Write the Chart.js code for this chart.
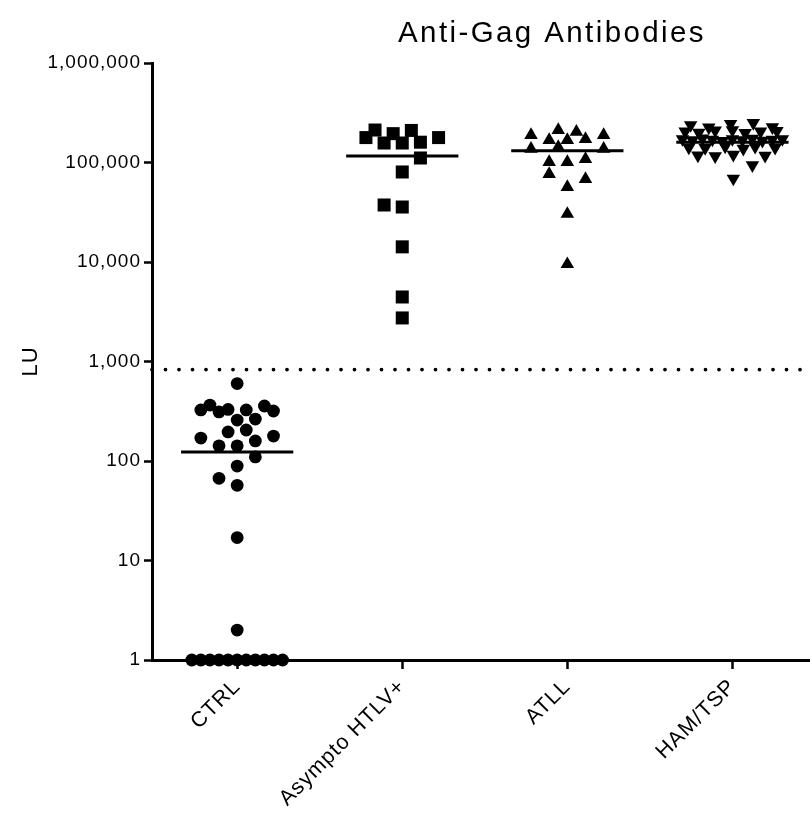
<!DOCTYPE html>
<html>
<head>
<meta charset="utf-8">
<script src="https://cdn.jsdelivr.net/npm/chart.js@4.4.1/dist/chart.umd.min.js"></script>
<style>
  html, body { margin: 0; padding: 0; background: #fff; }
  canvas { display: block; }
</style>
</head>
<body>
<canvas id="c" width="810" height="816"></canvas>
<script>
// ---------- data ----------
const titleText = 'Anti-Gag Antibodies';
const yAxisTitle = 'LU';
const categories = ['CTRL', 'Asympto HTLV+', 'ATLL', 'HAM/TSP'];
const yTicks = [1, 10, 100, 1000, 10000, 100000, 1000000];

const ctrlValues = [600, 326, 365, 311, 330, 258, 326, 264, 357, 318,
                    170, 196, 205, 159, 178, 142, 142, 110, 89, 67, 57, 17, 2,
                    1, 1, 1, 1, 1, 1, 1, 1, 1, 1, 1];
const ctrlSlots  = [0, -4, -3, -2, -1, 0, 1, 2, 3, 4,
                    -4, -1, 1, 2, 4, -2, 0, 2, 0, -2, 0, 0, 0,
                    -5, -4, -3, -2, -1, 0, 1, 2, 3, 4, 5];

const asymValues = [178000, 212000, 157000, 195000, 157000, 210000, 160000, 178000,
                    111000, 80300, 37400, 35700, 14200, 4450, 2740];
const asymSlots  = [-4, -3, -2, -1, 0, 1, 2, 4, 2, 0, -2, 0, 0, 0, 0];

const atllValues = [189000, 168000, 212000, 168000, 203000, 172000, 189000,
                    137000, 143000, 137000, 101000, 101000, 108000,
                    76600, 68200, 56700, 30400, 9500];
const atllSlots  = [-4, -2, -1, 0, 1, 2, 4, -4, -1, 4, -2, 0, 2, -2, 2, 0, 0, 0];

const hamValues = [238000, 225000, 245000, 250000, 226000,
                   205000, 200000, 210000, 212000, 198000, 205000, 208000,
                   172000, 168000, 175000, 170000, 165000, 172000, 168000, 174000, 166000, 170000, 172000,
                   142000, 140000, 145000, 138000, 144000, 141000,
                   118000, 116000, 120000, 117000,
                   94000, 69000];
const hamSlots  = [-4.6, -2.6, -0.2, 2.3, 4.4,
                   -5.2, -3.7, -1.9, 0, 1.4, 3.1, 4.9,
                   -5.5, -4.4, -3.3, -2.2, -1.1, 0, 1.1, 2.2, 3.3, 4.4, 5.5,
                   -4.8, -3, -0.8, 1.2, 2.5, 4.7,
                   -3.8, -1.9, 0.1, 3.6,
                   2.2, 0.1];

const medians = [123, 116000, 131000, 160000];
const cutoff = 830;

// ---------- layout constants ----------
const SLOT = 0.055;
const HALF_MEDIAN = 0.34;
const X_MIN = -0.516, X_MAX = 3.47;

function pts(catIdx, values, slots) {
  return values.map((v, i) => ({ x: catIdx + slots[i] * SLOT, y: v }));
}

Chart.defaults.font.family = "'Liberation Sans', Arial, Helvetica, sans-serif";
Chart.defaults.color = '#000';

const scatterBase = {
  type: 'scatter',
  backgroundColor: '#000',
  borderColor: '#000',
  borderWidth: 0,
  clip: false,
  order: 0
};

const datasets = [
  Object.assign({}, scatterBase, { label: categories[0], data: pts(0, ctrlValues, ctrlSlots), pointStyle: 'circle', pointRadius: 6.4 }),
  Object.assign({}, scatterBase, { label: categories[1], data: pts(1, asymValues, asymSlots), pointStyle: 'rect', pointRadius: 9.2 }),
  Object.assign({}, scatterBase, { label: categories[2], data: pts(2, atllValues, atllSlots), pointStyle: 'triangle', pointRadius: 7.8 }),
  Object.assign({}, scatterBase, { label: categories[3], data: pts(3, hamValues, hamSlots), pointStyle: 'triangle', rotation: 180, pointRadius: 7.8 })
];

medians.forEach((m, i) => {
  datasets.push({
    type: 'line',
    label: 'median ' + categories[i],
    data: [{ x: i - HALF_MEDIAN, y: m }, { x: i + HALF_MEDIAN, y: m }],
    borderColor: '#000',
    borderWidth: 3,
    pointRadius: 0,
    fill: false,
    clip: false,
    order: 1
  });
});

datasets.push({
  type: 'line',
  label: 'cutoff',
  data: [{ x: X_MIN, y: cutoff }, { x: X_MAX, y: cutoff }],
  borderColor: '#000',
  borderWidth: 3.8,
  borderDash: [0, 13.5],
  borderCapStyle: 'round',
  pointRadius: 0,
  fill: false,
  clip: false,
  order: 1
});

const spacingPlugin = {
  id: 'spacing',
  beforeUpdate(chart) { chart.ctx.letterSpacing = '1px'; },
  beforeDraw(chart) { chart.ctx.letterSpacing = '1px'; },
  afterDraw(chart) {
    const ctx = chart.ctx;
    ctx.save();
    ctx.letterSpacing = '2.4px';
    ctx.font = "29.5px 'Liberation Sans', Arial, Helvetica, sans-serif";
    ctx.fillStyle = '#000';
    ctx.textAlign = 'center';
    ctx.textBaseline = 'middle';
    ctx.fillText(titleText, 552, 34);
    ctx.restore();
  }
};

new Chart(document.getElementById('c'), {
  type: 'scatter',
  data: { datasets },
  plugins: [spacingPlugin],
  options: {
    responsive: false,
    animation: false,
    devicePixelRatio: 1,
    layout: { autoPadding: false, padding: { top: 63, left: 0, right: 0, bottom: 0 } },
    plugins: {
      legend: { display: false },
      tooltip: { enabled: false },
      title: { display: false }
    },
    scales: {
      x: {
        type: 'linear',
        min: X_MIN,
        max: X_MAX,
        afterBuildTicks(scale) { scale.ticks = categories.map((c, i) => ({ value: i })); },
        afterFit(scale) {
          scale.height = 156;
          scale.paddingLeft = 0;
          scale.paddingRight = 0;
        },
        ticks: {
          autoSkip: false,
          minRotation: 45,
          maxRotation: 45,
          padding: 5,
          color: '#000',
          font: { size: 21.5 },
          callback: (v) => categories[v]
        },
        grid: {
          drawOnChartArea: false,
          drawTicks: true,
          tickLength: 9,
          tickWidth: 2.5,
          tickColor: '#000'
        },
        border: { display: true, color: '#000', width: 3 }
      },
      y: {
        type: 'logarithmic',
        min: 1,
        max: 1000000,
        afterBuildTicks(scale) { scale.ticks = yTicks.map(v => ({ value: v, major: true })); },
        afterFit(scale) {
          scale.width = 152;
          scale.paddingTop = 0;
          scale.paddingBottom = 0;
        },
        ticks: {
          padding: 3,
          color: '#000',
          font: { size: 19 },
          callback: (v) => Number(v).toLocaleString('en-US')
        },
        grid: {
          drawOnChartArea: false,
          drawTicks: true,
          tickLength: 8,
          tickWidth: 2.5,
          tickColor: '#000'
        },
        border: { display: true, color: '#000', width: 3 },
        title: {
          display: true,
          text: yAxisTitle,
          color: '#000',
          font: { size: 22 },
          padding: { top: 18, bottom: 0 }
        }
      }
    }
  }
});
</script>
</body>
</html>
